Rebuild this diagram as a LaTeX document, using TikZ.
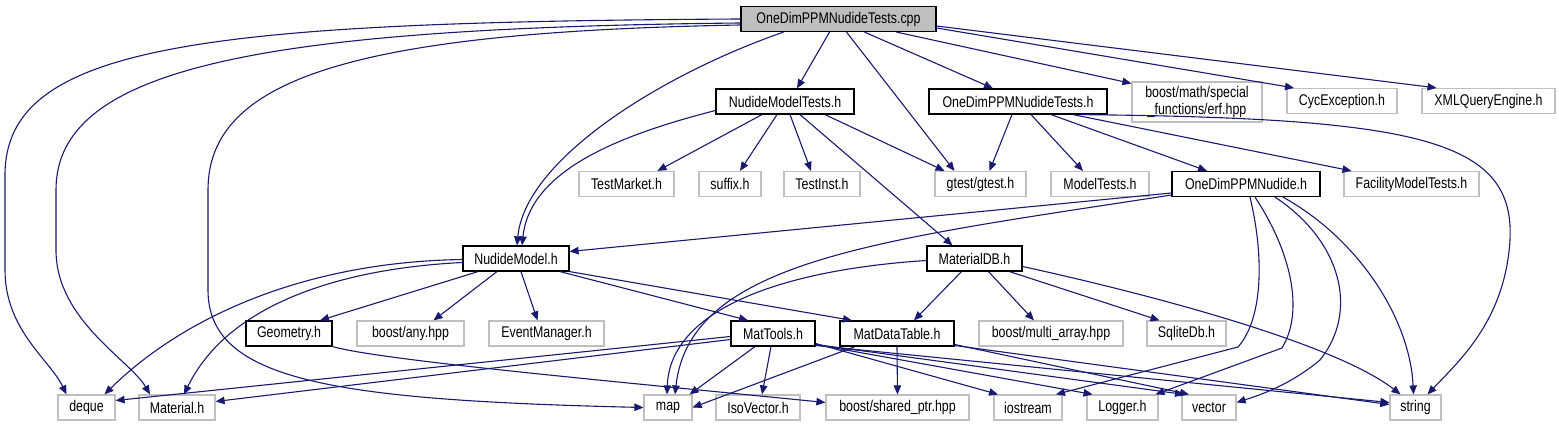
\documentclass[tikz,border=0pt]{standalone}
\usepackage{fontspec}
\newfontfamily\doxyfont{Liberation Sans}[FakeStretch=0.8]
\definecolor{doxyedge}{HTML}{191970}
\definecolor{doxygray}{HTML}{BFBFBF}
\usetikzlibrary{arrows.meta}

\begin{document}
\begin{tikzpicture}[
  x=1pt, y=-1pt,
  font=\doxyfont\fontsize{15.5}{16.5}\selectfont,
  hdr/.style={draw=black, line width=1.2pt, fill=white, minimum height=25pt, inner sep=0pt, align=center},
  ext/.style={hdr, draw=doxygray},
  cur/.style={hdr, fill=doxygray},
  inc/.style={-{Triangle[length=9pt,width=7.5pt]}, line width=1.1pt, draw=doxyedge},
]
\useasboundingbox (0,0) rectangle (1559,427);
\node[cur, minimum width=195pt] (root) at (838.5,19) {OneDimPPMNudideTests.cpp};
\node[hdr, minimum width=138pt] (nmt) at (785,101.5) {NudideModelTests.h};
\node[hdr, minimum width=178pt] (odt) at (1018,101.5) {OneDimPPMNudideTests.h};
\node[ext, minimum width=130pt, minimum height=40pt] (erf) at (1197,102) {boost/math/special\\\textunderscore functions/erf.hpp};
\node[ext, minimum width=110pt] (cyc) at (1342,101) {CycException.h};
\node[ext, minimum width=133pt] (xml) at (1488.5,101) {XMLQueryEngine.h};
\node[ext, minimum width=95pt]  (tmk) at (626.5,184) {TestMarket.h};
\node[ext, minimum width=62pt]  (sfx) at (730,184) {suffix.h};
\node[ext, minimum width=76pt]  (tin) at (822,184) {TestInst.h};
\node[ext, minimum width=91pt]  (gts) at (980.5,184) {gtest/gtest.h};
\node[ext, minimum width=98pt]  (mts) at (1100,184) {ModelTests.h};
\node[hdr, minimum width=148pt] (odn) at (1246,184) {OneDimPPMNudide.h};
\node[ext, minimum width=135pt] (fmt) at (1411.5,184) {FacilityModelTests.h};
\node[hdr, minimum width=106pt] (nm)  at (516,258.5) {NudideModel.h};
\node[hdr, minimum width=95pt]  (mdb) at (974.5,258.5) {MaterialDB.h};
\node[hdr, minimum width=86pt]  (geo) at (289,333.5) {Geometry.h};
\node[ext, minimum width=107pt] (any) at (410.5,333.5) {boost/any.hpp};
\node[ext, minimum width=115pt] (evm) at (546.5,333.5) {EventManager.h};
\node[hdr, minimum width=84pt]  (mtl) at (773,333.5) {MatTools.h};
\node[hdr, minimum width=114pt] (mdt) at (897,333.5) {MatDataTable.h};
\node[ext, minimum width=144pt] (mar) at (1051,333.5) {boost/multi\_array.hpp};
\node[ext, minimum width=79pt]  (sql) at (1186.5,333.5) {SqliteDb.h};
\node[ext, minimum width=57pt]  (deq) at (86.5,407.5) {deque};
\node[ext, minimum width=76pt]  (mat) at (177,407.5) {Material.h};
\node[ext, minimum width=48pt]  (map) at (668,407.5) {map};
\node[ext, minimum width=84pt]  (iso) at (758,407.5) {IsoVector.h};
\node[ext, minimum width=143pt] (shp) at (897.5,407.5) {boost/shared\_ptr.hpp};
\node[ext, minimum width=68pt]  (ios) at (1028,407.5) {iostream};
\node[ext, minimum width=71pt]  (log) at (1122.5,407.5) {Logger.h};
\node[ext, minimum width=54pt]  (vec) at (1209,407.5) {vector};
\node[ext, minimum width=51pt]  (str) at (1415.5,407.5) {string};
\draw[inc] (root.west) .. controls (200,22) and (5,45) .. (5,175) -- (5,270)
  .. controls (5,330) and (50,360) .. ([xshift=-20pt]deq.north);
\draw[inc] ([yshift=-4pt]root.west) .. controls (250,28) and (56,70) .. (56,190) -- (56,250)
  .. controls (56,320) and (130,360) .. ([xshift=-27pt]mat.north);
\draw[inc] ([yshift=-6pt]root.west) .. controls (350,32) and (208,80) .. (208,190) -- (208,290)
  .. controls (208,380) and (330,400) .. (map.west);
\draw[inc] ([xshift=-55pt]root.south) .. controls (660,75) and (525,160) .. ([xshift=1pt]nm.north);
\draw[inc] ([xshift=-9pt]root.south) -- ([xshift=12pt]nmt.north);
\draw[inc] ([xshift=8pt]root.south) -- ([xshift=-26pt]gts.north);
\draw[inc] ([xshift=26pt]root.south) -- ([xshift=-25pt]odt.north);
\draw[inc] ([xshift=58pt]root.south) -- ([yshift=-2pt]erf.north west);
\draw[inc] ([yshift=-9pt]root.east) -- ([xshift=-48pt]cyc.north);
\draw[inc] ([yshift=-7pt]root.east) -- ([xshift=-52pt]xml.north);
\draw[inc] ([xshift=-23pt]nmt.south) -- ([xshift=31pt]tmk.north);
\draw[inc] ([xshift=-8pt]nmt.south) -- ([xshift=10pt]sfx.north);
\draw[inc] ([xshift=5pt]nmt.south) -- ([xshift=-11pt]tin.north);
\draw[inc] ([xshift=40pt]nmt.south) -- ([xshift=-36pt]gts.north);
\draw[inc] ([xshift=15pt]nmt.south) -- ([xshift=-22pt]mdb.north);
\draw[inc] ([yshift=-9pt]nmt.west) .. controls (620,135) and (530,170) .. ([xshift=6pt]nm.north);
\draw[inc] ([xshift=-6pt]odt.south) -- ([xshift=9pt]gts.north);
\draw[inc] ([xshift=13pt]odt.south) -- ([xshift=-17pt]mts.north);
\draw[inc] ([xshift=33pt]odt.south) -- ([xshift=-39pt]odn.north);
\draw[inc] ([xshift=55pt]odt.south) -- ([xshift=-60pt]fmt.north);
\draw[inc] ([xshift=62pt]odt.south) .. controls (1420,118) and (1515,140) .. (1510,240)
  .. controls (1505,320) and (1460,360) .. ([xshift=12pt]str.north);
\draw[inc] ([yshift=-9pt]odn.west) -- ([yshift=7pt]nm.east);
\draw[inc] ([yshift=-11pt]odn.west) .. controls (880,240) and (690,260) .. ([xshift=7pt]map.north);
\draw[inc] ([xshift=4pt]odn.south) .. controls (1265,260) and (1262,320) .. (1238,347) -- ([xshift=28pt]ios.north);
\draw[inc] ([xshift=9pt]odn.south) .. controls (1290,250) and (1305,310) .. (1282,348) -- ([xshift=33pt]log.north);
\draw[inc] ([xshift=29pt]odn.south) .. controls (1340,240) and (1360,310) .. (1320,360)
  .. controls (1290,385) and (1260,395) .. ([yshift=5pt]vec.east);
\draw[inc] ([xshift=37pt]odn.south) .. controls (1360,240) and (1410,320) .. ([xshift=-2pt]str.north);
\draw[inc] ([yshift=-1pt]nm.west) .. controls (300,262) and (180,320) .. ([xshift=18pt]deq.north);
\draw[inc] ([yshift=-4pt]nm.west) .. controls (350,268) and (230,300) .. ([xshift=7pt]mat.north);
\draw[inc] ([xshift=-38pt]nm.south) -- ([xshift=31pt]geo.north);
\draw[inc] ([xshift=-19pt]nm.south) -- ([xshift=23pt]any.north);
\draw[inc] ([xshift=5pt]nm.south) -- ([xshift=-9pt]evm.north);
\draw[inc] ([xshift=44pt]nm.south) -- ([xshift=-25pt]mtl.north);
\draw[inc] (nm.south east) -- ([xshift=-45pt]mdt.north);
\draw[inc] ([yshift=-2pt]mdb.west) .. controls (780,270) and (670,310) .. ([xshift=-1pt]map.north);
\draw[inc] ([xshift=-13pt]mdb.south) -- ([xshift=17pt]mdt.north);
\draw[inc] ([xshift=14pt]mdb.south) -- ([xshift=-17pt]mar.north);
\draw[inc] ([xshift=35pt]mdb.south) -- ([xshift=-27pt]sql.north);
\draw[inc] ([yshift=-8pt]mdb.east) .. controls (1130,290) and (1330,340) .. ([xshift=-15pt]str.north);
\draw[inc] (geo.south east) .. controls (380,360) and (600,380) .. ([yshift=5pt]shp.west);
\draw[inc] ([yshift=-3pt]mtl.west) -- ([yshift=7pt]deq.east);
\draw[inc] ([yshift=-6pt]mtl.west) -- ([yshift=6pt]mat.east);
\draw[inc] ([xshift=-18pt]mtl.south) -- ([xshift=-3pt]map.north east);
\draw[inc] ([xshift=-2pt]mtl.south) -- ([xshift=4pt]iso.north);
\draw[inc] ([yshift=-10pt]mtl.east) -- ([xshift=-30pt]ios.north);
\draw[inc] ([yshift=-11pt]mtl.east) -- ([xshift=-30pt]log.north);
\draw[inc] ([yshift=-11pt]mtl.east) -- ([xshift=-25pt]vec.north);
\draw[inc] ([yshift=-12pt]mtl.east) -- ([yshift=5pt]str.west);
\draw[inc] ([xshift=-42pt]mdt.south) -- (map.east);
\draw[inc] (mdt.south) -- (shp.north);
\draw[inc] ([yshift=-11pt]mdt.east) -- ([xshift=-20pt]vec.north);
\draw[inc] ([yshift=-12pt]mdt.east) -- ([yshift=3pt]str.west);
\end{tikzpicture}
\end{document}
